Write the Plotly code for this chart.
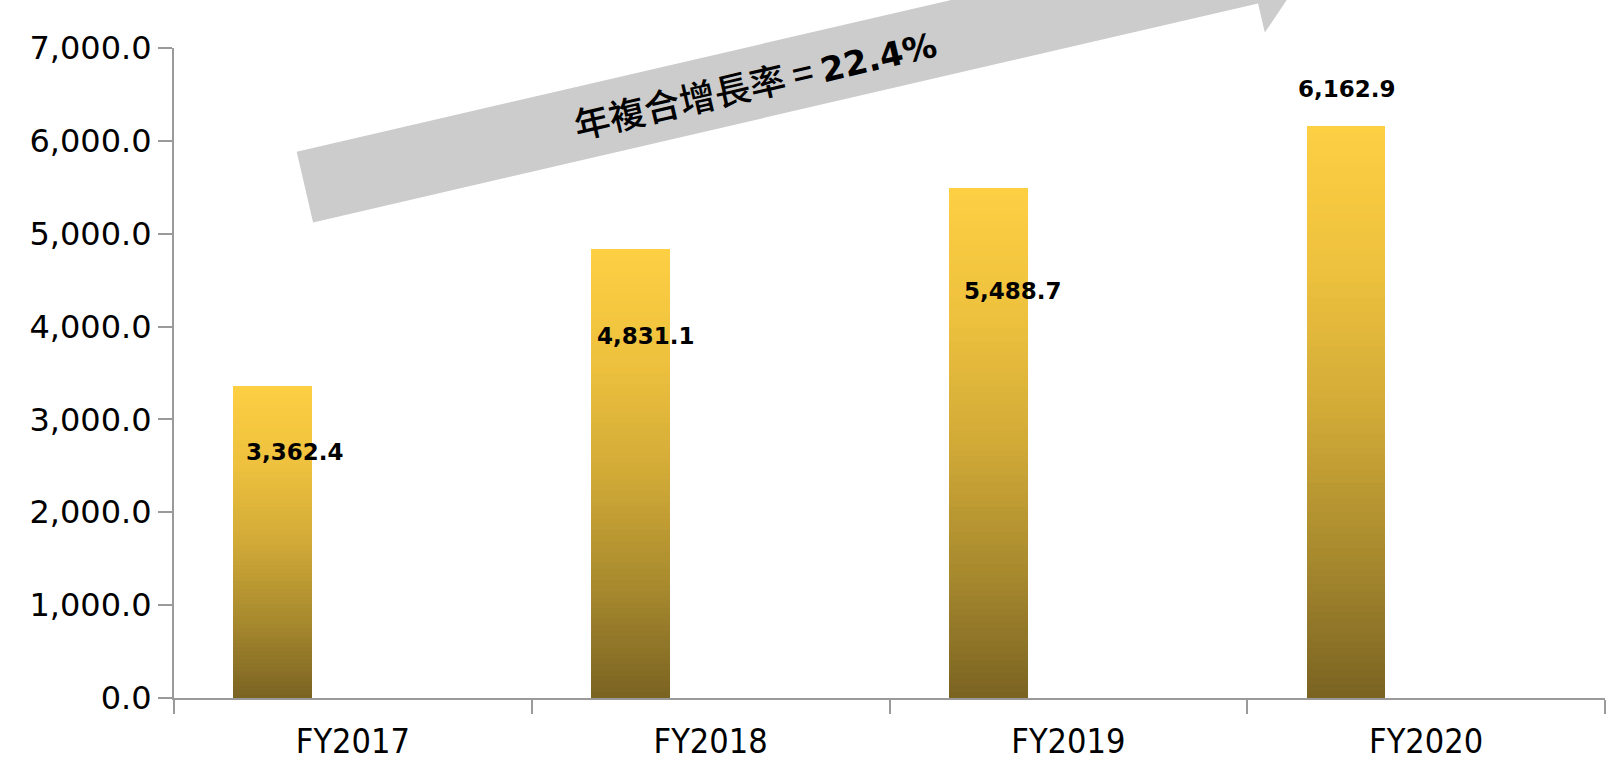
import math
import plotly.graph_objects as go
from plotly.colors import sample_colorscale

# ---- data ----
categories = ["FY2017", "FY2018", "FY2019", "FY2020"]
revenue = [3362.4, 4831.1, 5488.7, 6162.9]
cagr_label = "年複合增長率"
cagr_value = "22.4%"
y_tick_values = [0, 1000, 2000, 3000, 4000, 5000, 6000, 7000]

# ---- layout constants (pixels) ----
W, H = 1621, 760
M_L, M_R, M_T, M_B = 174, 16, 48, 62
PLOT_W = W - M_L - M_R
PLOT_H = H - M_T - M_B

# label placement relative to each bar top (px)
label_dx = [-58, -65, -55, -79]
label_dy = [-66, -87, -103, 37]

# vertical gradient for the bars (bottom -> top)
bar_scale = [
    [0.0, "#7a6322"],
    [0.25, "#a88a2e"],
    [0.5, "#d1aa37"],
    [0.75, "#eec13e"],
    [1.0, "#fdcf43"],
]
N_BANDS = 80

fig = go.Figure()

# Each bar is drawn as a stack of overlapping columns from tallest to shortest,
# so that the visible colour changes smoothly from the top to the base.
xs, ys, cols = [], [], []
band_colors = sample_colorscale(bar_scale, [(k - 0.5) / N_BANDS for k in range(1, N_BANDS + 1)])
for k in range(N_BANDS, 0, -1):
    for c, v in zip(categories, revenue):
        xs.append(c)
        ys.append(v * k / N_BANDS)
        cols.append(band_colors[k - 1] if k < N_BANDS else bar_scale[-1][1])

fig.add_trace(go.Bar(
    x=xs, y=ys,
    marker=dict(color=cols, line=dict(width=0)),
    width=0.22, offset=-0.334,
    hoverinfo="skip",
    showlegend=False,
))

# value labels
for c, v, dx, dy in zip(categories, revenue, label_dx, label_dy):
    fig.add_annotation(
        x=c, y=v, xref="x", yref="y",
        text=f"{v:,.1f}",
        showarrow=False,
        xshift=dx, yshift=dy,
        font=dict(family="DejaVu Sans", size=23, color="#000000", weight="bold"),
    )


def to_paper(px, py):
    return (px - M_L) / PLOT_W, (M_T + PLOT_H - py) / PLOT_H


# growth arrow: shaft + head, defined along its own direction
theta = math.radians(13.05)
d = (math.cos(theta), -math.sin(theta))
n = (math.sin(theta), math.cos(theta))
origin = (296.7, 151.7)
shaft_w = 72.6
shaft_len = 970
barb = 30
head_len = 71


def uv(u, v):
    return (origin[0] + u * d[0] + v * n[0], origin[1] + u * d[1] + v * n[1])


outline = [
    uv(0, 0), uv(shaft_len, 0), uv(shaft_len, -barb),
    uv(shaft_len + head_len, shaft_w / 2),
    uv(shaft_len, shaft_w + barb), uv(shaft_len, shaft_w), uv(0, shaft_w),
]
path = ""
for i, (px, py) in enumerate(outline):
    xp, yp = to_paper(px, py)
    path += ("M" if i == 0 else "L") + f"{xp:.5f},{yp:.5f} "
path += "Z"
fig.add_shape(type="path", path=path, xref="paper", yref="paper",
              fillcolor="#cccccc", line=dict(width=0), layer="above")

tx, ty = to_paper(*uv(462, shaft_w / 2 - 1))
fig.add_annotation(
    x=tx, y=ty, xref="paper", yref="paper",
    text=(f"<span style='font-family:Noto Sans CJK TC;font-size:36px;font-weight:500'>{cagr_label} = </span>"
          f"<span style='font-family:DejaVu Sans;font-size:34px'><b>{cagr_value}</b></span>"),
    showarrow=False, textangle=-13.05,
    xanchor="center", yanchor="middle",
    font=dict(family="Noto Sans CJK TC", size=36, color="#000000"),
)

axis_gray = "#9a9a9a"
fig.update_layout(
    width=W, height=H,
    margin=dict(l=M_L, r=M_R, t=M_T, b=M_B, pad=0, autoexpand=False),
    paper_bgcolor="white", plot_bgcolor="white",
    barmode="overlay", bargap=0,
    xaxis=dict(
        type="category", categoryorder="array", categoryarray=categories,
        range=[-0.5, len(categories) - 0.5],
        automargin=False,
        showline=True, linecolor=axis_gray, linewidth=2,
        ticks="outside", tickson="boundaries", ticklen=14, tickwidth=2, tickcolor=axis_gray,
        ticklabelstandoff=12,
        showgrid=False, zeroline=False,
        tickfont=dict(family="Liberation Sans Narrow, DejaVu Sans Condensed", size=34, color="#000000"),
    ),
    yaxis=dict(
        range=[0, 7000], tickvals=y_tick_values, tickformat=",.1f",
        automargin=False,
        showline=True, linecolor=axis_gray, linewidth=2,
        ticks="outside", ticklen=14, tickwidth=2, tickcolor=axis_gray,
        showgrid=False, zeroline=False,
        tickfont=dict(family="DejaVu Sans", size=32, color="#000000"),
    ),
)

fig.write_html("out.html")
